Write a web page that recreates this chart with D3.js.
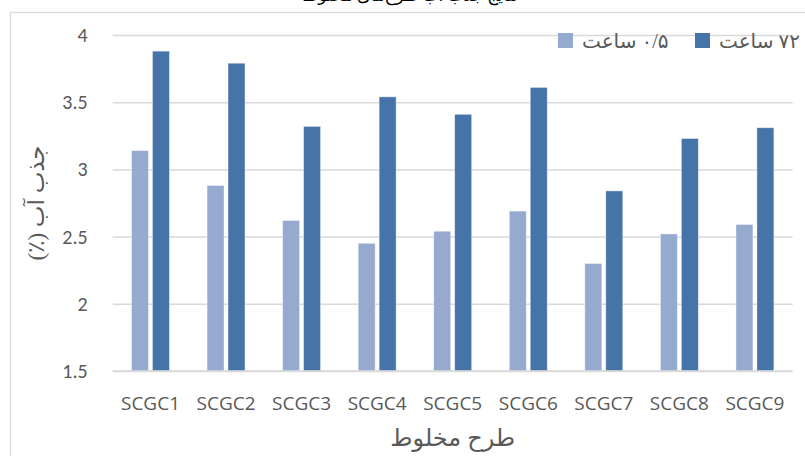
<!DOCTYPE html>
<html>
<head>
<meta charset="utf-8">
<script src="https://cdn.jsdelivr.net/npm/d3@7"></script>
<style>
  html, body { margin: 0; padding: 0; background: #fff; }
  svg { display: block; }
</style>
</head>
<body>
<svg id="chart" width="805" height="456"></svg>
<script>
// Water absorption (%) of each mix design after 0.5 h and 72 h
const categories = ["SCGC1", "SCGC2", "SCGC3", "SCGC4", "SCGC5", "SCGC6", "SCGC7", "SCGC8", "SCGC9"];
const seriesNames = ["۰/۵ ساعت", "۷۲ ساعت"];
const values05h = [3.14, 2.88, 2.62, 2.45, 2.54, 2.69, 2.30, 2.52, 2.59];
const values72h = [3.88, 3.79, 3.32, 3.54, 3.41, 3.61, 2.84, 3.23, 3.31];
const yTicks = [1.5, 2, 2.5, 3, 3.5, 4];
const yTickLabels = ["1.5", "2", "2.5", "3", "3.5", "4"];
const captionText = "نتایج جذب آب طرح‌های مخلوط";
const xTitle = "طرح مخلوط";
const yTitle = "جذب آب (٪)";

const colors = ["#96aad0", "#4673a8"];
const textColor = "#595959";
const gridColor = "#d9d9d9";
const latin = "Carlito, Lato, 'Open Sans', sans-serif";
const catFont = "'Open Sans', Lato, sans-serif";
const persian = "'Liberation Serif', 'DejaVu Sans', serif";

const svg = d3.select("#chart");
const plot = { left: 112.7, right: 792.7, top: 35, bottom: 371 };

// chart frame (runs off the right and bottom edges)
svg.append("rect")
  .attr("x", 10.5).attr("y", 12.5)
  .attr("width", 820).attr("height", 460)
  .attr("fill", "#fff").attr("stroke", gridColor).attr("stroke-width", 1.3);

// caption line above the frame
svg.append("text")
  .attr("x", 518).attr("y", 1)
  .attr("direction", "rtl")
  .attr("text-anchor", "start")
  .attr("font-family", persian)
  .attr("font-size", 17)
  .attr("fill", "#000")
  .text(captionText);

const x = d3.scaleBand().domain(categories).range([plot.left, plot.right]).padding(0);
const xSub = d3.scaleBand().domain([0, 1])
  .range([x.bandwidth() * 0.249, x.bandwidth() * 0.751])
  .paddingInner(0.19);
const y = d3.scaleLinear().domain([1.5, 4]).range([plot.bottom, plot.top]);

// gridlines + value axis labels
const yAxis = d3.axisLeft(y).tickValues(yTicks)
  .tickFormat((d, i) => yTickLabels[i])
  .tickSize(-(plot.right - plot.left)).tickPadding(25);
const gy = svg.append("g").attr("transform", `translate(${plot.left},0)`).call(yAxis);
gy.select(".domain").remove();
gy.selectAll(".tick line").attr("stroke", gridColor).attr("stroke-width", 1.5);
gy.selectAll(".tick text")
  .attr("fill", textColor).attr("font-family", latin).attr("font-size", 20);

// bars
const rows = categories.map((c, i) => ({ cat: c, vals: [values05h[i], values72h[i]] }));
const groups = svg.append("g").selectAll("g").data(rows).join("g")
  .attr("transform", d => `translate(${x(d.cat)},0)`);
groups.selectAll("rect").data(d => d.vals.map((v, k) => ({ v, k }))).join("rect")
  .attr("x", d => xSub(d.k))
  .attr("width", xSub.bandwidth())
  .attr("y", d => y(d.v))
  .attr("height", d => y(1.5) - y(d.v))
  .attr("fill", d => colors[d.k])
  .attr("stroke", "#fff").attr("stroke-opacity", 0.5).attr("stroke-width", 0.8);

// category axis
const xAxis = d3.axisBottom(x).tickSize(0).tickPadding(26);
const gx = svg.append("g").attr("transform", `translate(0,${plot.bottom})`).call(xAxis);
gx.select(".domain").attr("stroke", gridColor).attr("stroke-width", 1.6)
  .attr("d", `M${plot.left},0H${plot.right}`);
gx.selectAll(".tick text")
  .attr("fill", textColor).attr("font-family", catFont).attr("font-size", 19);

// axis titles
svg.append("text")
  .attr("x", (plot.left + plot.right) / 2).attr("y", 446)
  .attr("text-anchor", "middle")
  .attr("font-family", persian).attr("font-size", 24)
  .attr("fill", textColor)
  .text(xTitle);

svg.append("text")
  .attr("transform", `translate(44,${(plot.top + plot.bottom) / 2}) rotate(-90)`)
  .attr("text-anchor", "middle")
  .attr("direction", "rtl")
  .attr("font-family", persian).attr("font-size", 23)
  .attr("fill", textColor)
  .text(yTitle);

// legend
const legendItems = [
  { name: seriesNames[0], color: colors[0], x: 558 },
  { name: seriesNames[1], color: colors[1], x: 695 }
];
const lg = svg.append("g").selectAll("g").data(legendItems).join("g")
  .attr("transform", d => `translate(${d.x},33)`);
lg.append("rect").attr("width", 15).attr("height", 15).attr("fill", d => d.color);
lg.append("text")
  .attr("x", 24).attr("y", 15)
  .attr("direction", "rtl")
  .attr("text-anchor", "end")
  .attr("font-family", persian).attr("font-size", 20)
  .attr("fill", textColor)
  .text(d => d.name);
</script>
</body>
</html>
